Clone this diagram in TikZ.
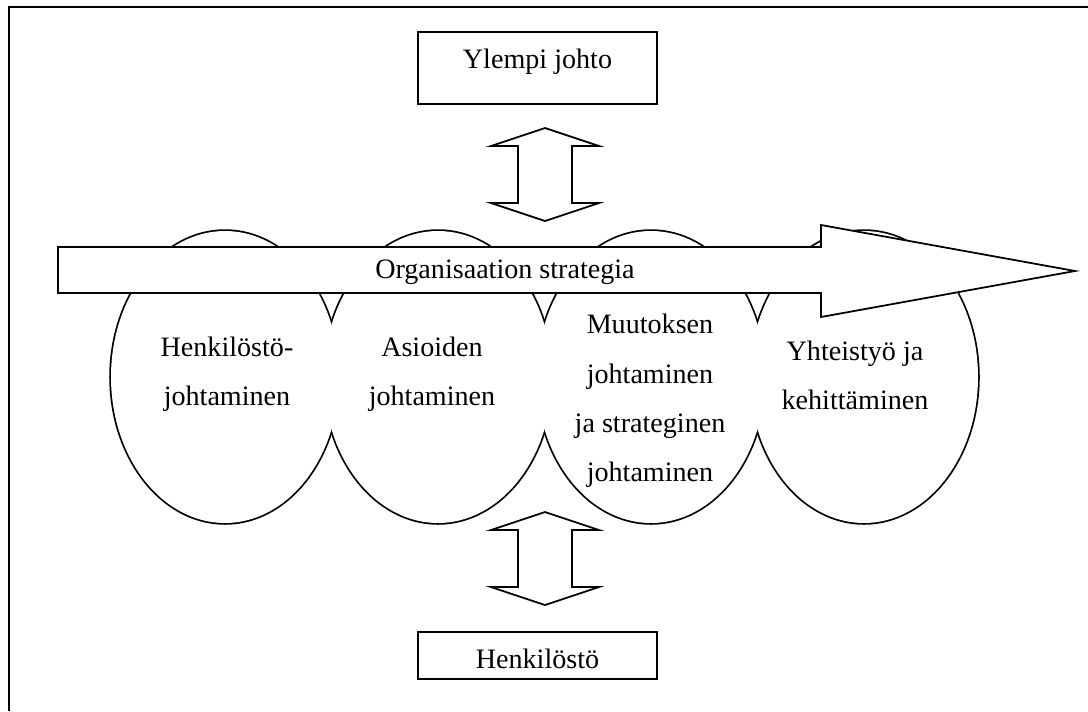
\documentclass[tikz,border=0pt]{standalone}
\usepackage{fontspec}
\setmainfont{Liberation Serif}
\usetikzlibrary{positioning}

\begin{document}
\begin{tikzpicture}[
    x=0.02cm, y=-0.02cm,
    every node/.style={font=\fontsize{16}{28}\selectfont, align=center, inner sep=0pt},
    tierbox/.style={draw, line width=1pt, fill=white, minimum width=4.78cm, text height=0.72cm},
    shapeline/.style={draw=black, line width=1pt, fill=white, line join=miter}
  ]
  \useasboundingbox (0,0) rectangle (1088,711);
  % frame (runs off the page on the right and at the bottom)
  \draw[line width=1.7pt] (9,711) -- (9,7) -- (1088,7);

  % the four lobes, only their common outline
  \foreach \cx in {225,438,651,864}
    \draw[line width=2pt] (\cx,377) ellipse [x radius=114, y radius=146];
  \foreach \cx in {225,438,651,864}
    \fill[white] (\cx,377) ellipse [x radius=114, y radius=146];

  \node (henk) at (227,374) {Henkilöstö-\\johtaminen};
  \node (asiat) at (432,374) {Asioiden\\johtaminen};
  \node (muutos) at (650,401) {Muutoksen\\johtaminen\\ja strateginen\\johtaminen};
  \node (yhteis) at (855,375) {Yhteistyö ja\\kehittäminen};

  % strategy arrow over the lobes
  \draw[shapeline] (58,247) -- (821,247) -- (821,225) -- (1075,271)
    -- (821,317) -- (821,293) -- (58,293) -- cycle;
  \node [anchor=base] (strat) at (505,278) {Organisaation strategia};

  \node [tierbox, text depth=0.72cm, anchor=base] (ylempi) at (537.5,68) {Ylempi johto};
  \node [tierbox, text depth=0.22cm, anchor=base] (henkilosto) at (537.5,668) {Henkilöstö};

  % two-way arrows
  \foreach \t in {128,512}
    \draw[shapeline] (545,\t) -- ++(54,18) -- ++(-27,0) -- ++(0,57) -- ++(27,0)
      -- ++(-54,18) -- ++(-54,-18) -- ++(27,0) -- ++(0,-57) -- ++(-27,0) -- cycle;
\end{tikzpicture}
\end{document}
